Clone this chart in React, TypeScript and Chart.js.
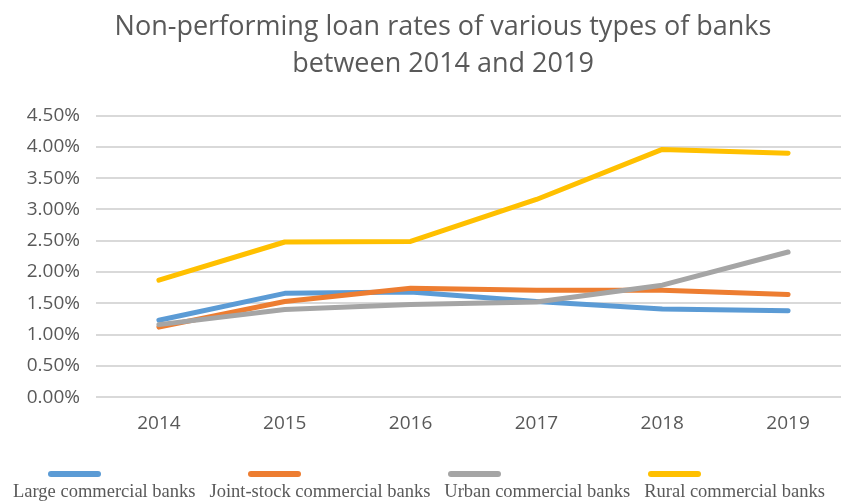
import React, { useEffect, useRef } from "react";
import { Chart, registerables } from "chart.js";

Chart.register(...registerables);

const years = ["2014", "2015", "2016", "2017", "2018", "2019"];
const seriesNames = [
  "Large commercial banks",
  "Joint-stock commercial banks",
  "Urban commercial banks",
  "Rural commercial banks",
];
const largeBanks = [1.23, 1.66, 1.68, 1.53, 1.41, 1.38];
const jointStockBanks = [1.12, 1.53, 1.74, 1.71, 1.71, 1.64];
const urbanBanks = [1.16, 1.4, 1.48, 1.52, 1.79, 2.32];
const ruralBanks = [1.87, 2.48, 2.49, 3.16, 3.96, 3.9];
const seriesColors = ["#5B9BD5", "#ED7D31", "#A5A5A5", "#FFC000"];
const titleLines = [
  "Non-performing loan rates of various types of banks",
  "between 2014 and 2019",
];

const TEXT = "#595959";
const W = 851;
const H = 504;

const shiftTitle = {
  id: "shiftTitle",
  afterLayout(chart: any) {
    const tb = chart.titleBlock;
    if (tb) {
      tb.left = 35;
      tb.width = tb.right - tb.left;
    }
  },
};

const bottomLegend = {
  id: "bottomLegend",
  afterDraw(chart: any) {
    const ctx = chart.ctx as CanvasRenderingContext2D;
    const dsets = chart.data.datasets;
    ctx.save();
    ctx.font = '18.5px "Liberation Serif"';
    const widths = dsets.map((d: any) => ctx.measureText(d.label).width);
    const total = widths.reduce((a: number, b: number) => a + b, 0);
    const left = 13;
    const right = 825;
    const gap = (right - left - total) / (dsets.length - 1);
    const textY = chart.height - 12;
    const swY = chart.height - 30;
    let x = left;
    dsets.forEach((d: any, i: number) => {
      const sx = 48 + i * 200;
      ctx.beginPath();
      ctx.strokeStyle = d.borderColor;
      ctx.lineWidth = 6;
      ctx.lineCap = "round";
      ctx.moveTo(sx + 3, swY);
      ctx.lineTo(sx + 50, swY);
      ctx.stroke();
      ctx.fillStyle = TEXT;
      ctx.textBaseline = "middle";
      ctx.textAlign = "left";
      ctx.fillText(d.label, x, textY);
      x += widths[i] + gap;
    });
    ctx.restore();
  },
};

export default function App() {
  const ref = useRef<HTMLCanvasElement | null>(null);
  useEffect(() => {
    if (!ref.current) return;
    const values = [largeBanks, jointStockBanks, urbanBanks, ruralBanks];
    const chart = new Chart(ref.current, {
      type: "line",
      data: {
        labels: years,
        datasets: values.map((v, i) => ({
          label: seriesNames[i],
          data: v,
          borderColor: seriesColors[i],
          backgroundColor: seriesColors[i],
          borderWidth: 5,
          pointRadius: 0,
          tension: 0,
          borderCapStyle: "round",
          borderJoinStyle: "round",
          order: values.length - i,
        })),
      },
      options: {
        animation: false,
        responsive: false,
        layout: { padding: { left: 0, right: 0, top: 0, bottom: 62 } },
        plugins: {
          legend: { display: false },
          tooltip: { enabled: false },
          title: {
            display: true,
            text: titleLines,
            color: TEXT,
            font: { family: "Open Sans", size: 27, weight: "normal", lineHeight: 1.4 },
            padding: { top: 8, bottom: 32 },
          },
        },
        scales: {
          x: {
            offset: true,
            grid: { display: false },
            border: { display: false },
            ticks: {
              color: TEXT,
              font: { family: "Open Sans", size: 19 },
              padding: 7,
              maxRotation: 0,
            },
          },
          y: {
            min: 0,
            max: 4.5,
            border: { display: false },
            grid: { color: "#D9D9D9", lineWidth: 2, drawTicks: false },
            afterFit: (s: any) => {
              s.width = 96;
            },
            ticks: {
              stepSize: 0.5,
              color: TEXT,
              padding: 16,
              font: { family: "Open Sans", size: 19 },
              callback: (v: any) => Number(v).toFixed(2) + "%",
            },
          },
        },
      },
      plugins: [shiftTitle, bottomLegend],
    });
    return () => chart.destroy();
  }, []);
  return (
    <div
      style={{
        position: "absolute",
        left: 0,
        top: 0,
        width: 841,
        height: H,
        overflow: "hidden",
        background: "#fff",
      }}
    >
      <canvas ref={ref} width={W} height={H} style={{ width: W, height: H, display: "block" }} />
    </div>
  );
}
